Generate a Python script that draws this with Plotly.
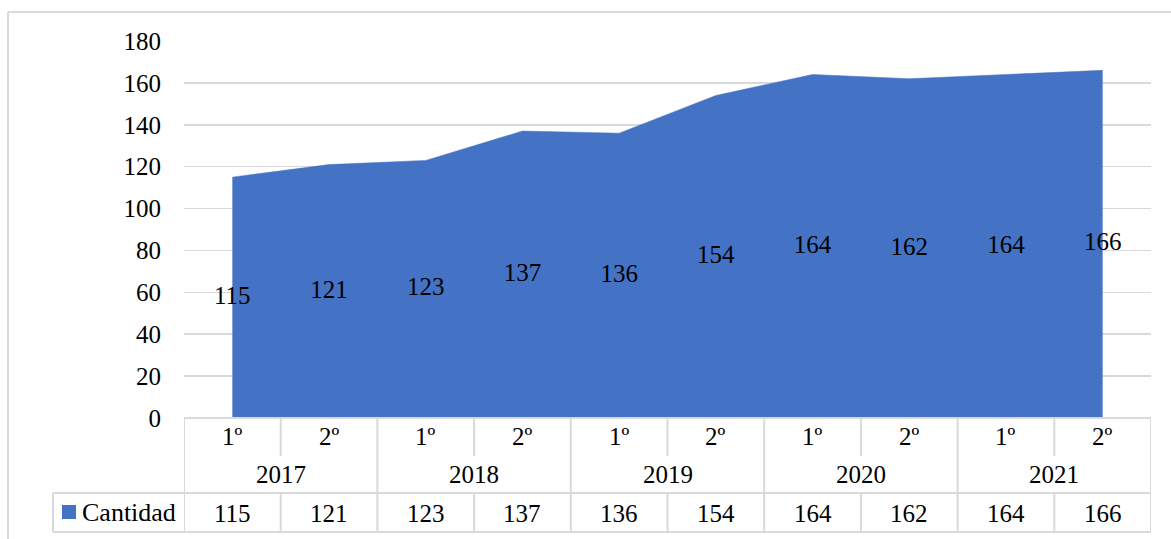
import plotly.graph_objects as go

semesters = ["1º", "2º", "1º", "2º", "1º", "2º", "1º", "2º", "1º", "2º"]
years = ["2017", "2018", "2019", "2020", "2021"]
values = [115, 121, 123, 137, 136, 154, 164, 162, 164, 166]
series_name = "Cantidad"
y_ticks = [0, 20, 40, 60, 80, 100, 120, 140, 160, 180]

FONT = "Liberation Serif"
FS = 25
BLUE = "#4472C4"
GRID = "#d9d9d9"

W, H = 1171, 539
L, R, T, B = 184, 1151, 41, 418
pw, ph = R - L, B - T

def py(pix):
    return (B - pix) / ph

def pxp(pix):
    return (pix - L) / pw

n = len(values)
xs = list(range(n))

fig = go.Figure()
fig.add_trace(go.Scatter(
    x=xs, y=values, mode="lines", fill="tozeroy",
    fillcolor=BLUE, line=dict(color=BLUE, width=0.5),
    hoverinfo="skip", showlegend=False,
))
fig.add_trace(go.Scatter(
    x=xs, y=[v / 2 for v in values], mode="text",
    text=[str(v) for v in values], textposition="middle center",
    textfont=dict(family=FONT, size=FS, color="black"),
    hoverinfo="skip", showlegend=False,
))

shapes = []
line = dict(color=GRID, width=2)
# outer chart border (left and top)
shapes.append(dict(type="line", xref="paper", yref="paper",
                   x0=pxp(8), x1=pxp(8), y0=py(12), y1=py(545), line=line))
shapes.append(dict(type="line", xref="paper", yref="paper",
                   x0=pxp(8), x1=pxp(1180), y0=py(12), y1=py(12), line=line))

# data table lines
row_top, row_mid, row_val, row_bot = 418, 456, 493, 532
shapes.append(dict(type="line", xref="x", yref="paper", x0=-0.5, x1=n - 0.5,
                   y0=py(row_top), y1=py(row_top), line=line))
shapes.append(dict(type="line", xref="paper", yref="paper", x0=pxp(53), x1=1,
                   y0=py(row_val), y1=py(row_val), line=line))
shapes.append(dict(type="line", xref="paper", yref="paper", x0=pxp(53), x1=1,
                   y0=py(row_bot), y1=py(row_bot), line=line))
shapes.append(dict(type="line", xref="paper", yref="paper", x0=pxp(53), x1=pxp(53),
                   y0=py(row_val), y1=py(row_bot), line=line))
for k in range(n + 1):
    xb = k - 0.5
    shapes.append(dict(type="line", xref="x", yref="paper", x0=xb, x1=xb,
                       y0=py(row_top), y1=py(row_mid), line=line))
    if k % 2 == 0:
        shapes.append(dict(type="line", xref="x", yref="paper", x0=xb, x1=xb,
                           y0=py(row_mid), y1=py(row_val), line=line))
    shapes.append(dict(type="line", xref="x", yref="paper", x0=xb, x1=xb,
                       y0=py(row_val), y1=py(row_bot), line=line))
# legend key
shapes.append(dict(type="rect", xref="paper", yref="paper",
                   x0=pxp(62), x1=pxp(76), y0=py(519), y1=py(505),
                   fillcolor=BLUE, line=dict(width=0)))

ann = []
tf = dict(family=FONT, size=FS, color="black")
for i, s in enumerate(semesters):
    ann.append(dict(x=i, y=py(437), xref="x", yref="paper", text=s,
                    showarrow=False, font=tf, xanchor="center", yanchor="middle"))
for j, yr in enumerate(years):
    ann.append(dict(x=2 * j + 0.5, y=py(474), xref="x", yref="paper", text=yr,
                    showarrow=False, font=tf, xanchor="center", yanchor="middle"))
for i, v in enumerate(values):
    ann.append(dict(x=i, y=py(513), xref="x", yref="paper", text=str(v),
                    showarrow=False, font=tf, xanchor="center", yanchor="middle"))
ann.append(dict(x=pxp(80), y=py(512), xref="paper", yref="paper", text=series_name,
                showarrow=False, font=dict(family=FONT, size=26, color="black"),
                xanchor="left", yanchor="middle"))

fig.update_layout(
    width=W, height=H,
    margin=dict(l=L, r=W - R, t=T, b=H - B, pad=0),
    paper_bgcolor="white", plot_bgcolor="white",
    showlegend=False,
    font=dict(family=FONT),
    xaxis=dict(range=[-0.5, n - 0.5], showticklabels=False, showgrid=False,
               zeroline=False, showline=False, fixedrange=True),
    yaxis=dict(range=[0, 180], tickvals=y_ticks, showgrid=True, gridcolor=GRID,
               gridwidth=1.5, zeroline=False, showline=False,
               tickfont=dict(family=FONT, size=FS, color="black"),
               ticklabelstandoff=22, fixedrange=True),
    shapes=shapes, annotations=ann,
)

fig.write_html("out.html",
               config={"displayModeBar": False, "staticPlot": True},
               post_script="document.body.style.margin='0';document.body.style.overflow='hidden';")
